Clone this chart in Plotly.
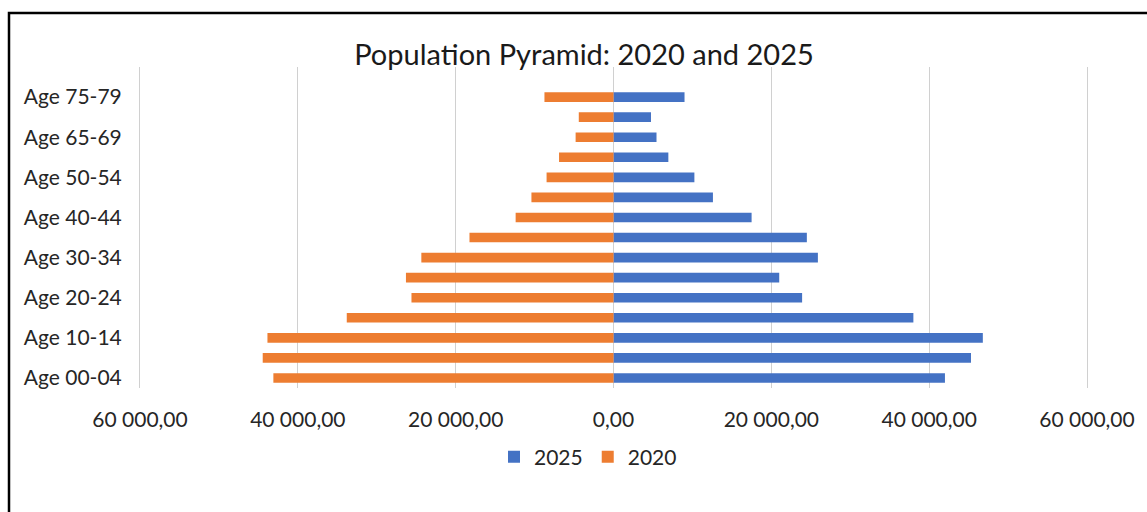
import plotly.graph_objects as go

categories = ["Age 00-04", "Age 05-09", "Age 10-14", "Age 15-19", "Age 20-24",
              "Age 25-29", "Age 30-34", "Age 35-39", "Age 40-44", "Age 45-49",
              "Age 50-54", "Age 55-64", "Age 65-69", "Age 70-74", "Age 75-79",
              "Age 80+"]
pop_2025 = [42000, 45300, 46800, 38000, 23900, 21000, 25900, 24500, 17500,
            12600, 10250, 6950, 5450, 4750, 9000, None]
pop_2020 = [43100, 44450, 43850, 33800, 25600, 26300, 24350, 18250, 12400,
            10400, 8480, 6900, 4800, 4400, 8750, None]
tick_values = [-60000, -40000, -20000, 0, 20000, 40000, 60000]
tick_labels = ["60 000,00", "40 000,00", "20 000,00", "0,00",
               "20 000,00", "40 000,00", "60 000,00"]

W, H = 1147, 512
L, R, T, B = 140, 60, 67, 124
pw, ph = W - L - R, H - T - B

fig = go.Figure()
fig.add_trace(go.Bar(y=categories, x=pop_2025, orientation="h", name="2025",
                     marker=dict(color="#4472C4", line=dict(width=0))))
fig.add_trace(go.Bar(y=categories, x=[-v if v is not None else None for v in pop_2020],
                     orientation="h", name="2020",
                     marker=dict(color="#ED7D31", line=dict(width=0))))

font_family = "Lato, 'Open Sans', sans-serif"
grid = "#D0D0D0"

fig.update_layout(
    width=W, height=H,
    margin=dict(l=L, r=R, t=T, b=B, pad=0),
    paper_bgcolor="white", plot_bgcolor="white",
    barmode="relative", bargap=0.52,
    font=dict(family=font_family, size=21, color="#262626"),
    title=dict(text="Population Pyramid: 2020 and 2025", x=584 / W, xanchor="center",
               y=1 - 55 / H, yanchor="middle", yref="container",
               font=dict(size=29, color="#1a1a1a", family=font_family)),
    xaxis=dict(range=[-60000, 60000], tickvals=tick_values, ticktext=tick_labels,
               showgrid=True, gridcolor=grid, gridwidth=1,
               zeroline=True, zerolinecolor=grid, zerolinewidth=1,
               ticks="outside", ticklen=13, tickcolor="rgba(0,0,0,0)",
               showline=False, tickfont=dict(size=21, color="#262626"),
               fixedrange=True),
    yaxis=dict(type="category", categoryorder="array", categoryarray=categories,
               tickvals=categories[::2], ticktext=categories[::2],
               showgrid=False, showline=True, linecolor=grid, linewidth=1, mirror=True,
               zeroline=False,
               ticks="outside", ticklen=13, tickcolor="rgba(0,0,0,0)",
               tickfont=dict(size=21, color="#262626"), fixedrange=True),
    legend=dict(orientation="h", x=(588 - L) / pw, xanchor="center",
                y=(388 - 457) / ph, yanchor="middle",
                font=dict(size=21, color="#262626"), itemwidth=30,
                bgcolor="rgba(0,0,0,0)"),
    showlegend=True,
    shapes=[dict(type="rect", xref="paper", yref="paper",
                 x0=(9 - L) / pw, x1=(1200 - L) / pw,
                 y0=(T + ph - 560) / ph, y1=(T + ph - 13) / ph,
                 line=dict(color="black", width=2.5), fillcolor="rgba(0,0,0,0)",
                 layer="below")],
)

fig.write_html("out.html")
